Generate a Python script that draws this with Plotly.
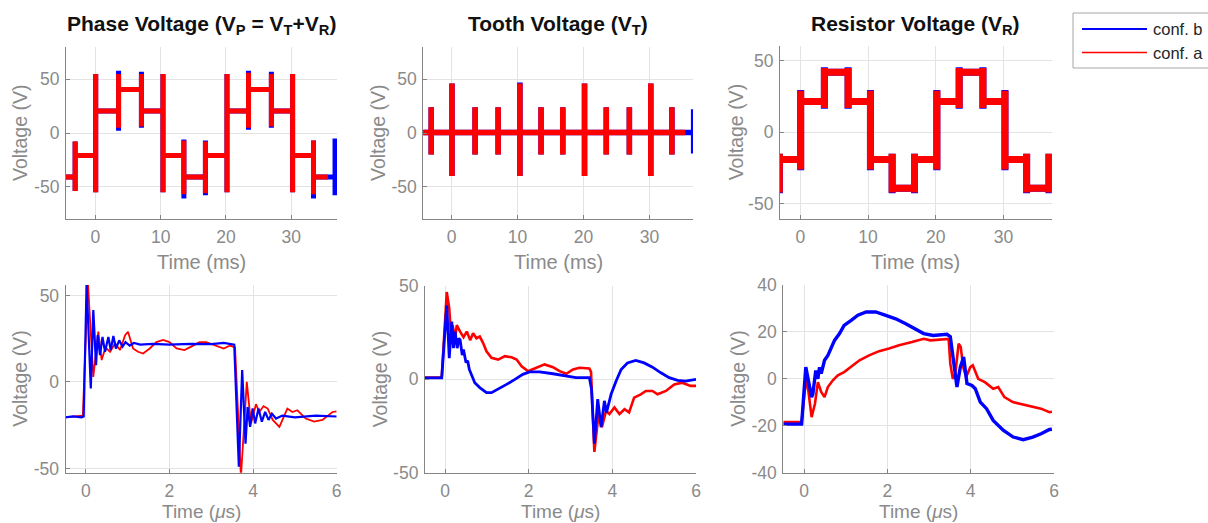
import plotly.graph_objects as go

# ---------------------------------------------------------------------------
# Data
# ---------------------------------------------------------------------------
# Switching instants of the inverter (ms) shared by the slow-time waveforms
STEP_T_MS = [-3.1, 0.05, 3.55, 7.05, 10.35, 13.55, 16.85, 20.15, 23.45, 26.95, 30.2, 33.4, 36.7]

# Phase voltage: plateau levels between switchings and transient extremes at each switching
PHASE_LEVELS = [-41, -21, 20.5, 40.5, 20.5, -21, -41, -21, 20.5, 40.5, 20.5, -21, -41, -21]
PHASE_A_HI = [-8, 55, 55, 55, 55, -7, -8, 55, 56, 55, 55, -7, -5]
PHASE_A_LO = [-54, -55, 5, 6, -55, -57, -56, -55, 5, 6, -55, -57, -58]
PHASE_B_HI = [-8, 55, 58, 57, 55, -6, -7, 55, 58, 57, 55, -7, -5]
PHASE_B_LO = [-54, -55, 2, 5, -55, -61, -58, -55, 3, 5, -55, -61, -58]

# Tooth voltage: flat baseline with transient spikes at each switching
TOOTH_LEVELS = [0.5] * 14
TOOTH_A_HI = [24, 46, 24, 24, 46, 24, 24, 46, 24, 24, 46, 24, 22]
TOOTH_A_LO = [-20, -40, -20, -20, -40, -20, -20, -40, -20, -20, -40, -20, -19]
TOOTH_B_HI = [24, 46, 24, 24, 47, 24, 24, 46, 24, 24, 46, 24, 22]
TOOTH_B_LO = [-20, -40, -20, -20, -40, -20, -20, -40, -20, -20, -40, -20, -19]

# Resistor voltage
RES_LEVELS = [-39, -19, 21.5, 42, 21.5, -19, -39, -19, 21.5, 42, 21.5, -19, -39, -19]
RES_A_HI = [-15, 29, 45, 45, 29, -15, -15, 29, 45, 45, 29, -15, -15]
RES_A_LO = [-42, -26, 17, 17, -26, -42, -42, -26, 17, 17, -26, -42, -42]
RES_B_HI = [-15, 29.5, 45.5, 45.5, 29.5, -15, -15, 29.5, 45.5, 45.5, 29.5, -15, -15]
RES_B_LO = [-42.5, -26.5, 16.5, 16.5, -26.5, -42.5, -42.5, -26.5, 16.5, 16.5, -26.5, -42.5, -42.5]

# Record spans (ms)
PHASE_SPAN_A = (-4.6, 35.6)
PHASE_SPAN_B = (-4.6, 37.0)
TOOTH_SPAN_A = (-4.4, 35.4)
TOOTH_SPAN_B = (-4.4, 36.7)
RES_SPAN = (-3.3, 36.8)

# Switching transient, phase voltage (time in us)
PH_A_T = [-0.5, -0.2, -0.07, 0.05, 0.12, 0.18, 0.30, 0.38, 0.44, 0.50, 0.58, 0.70, 0.82, 0.94,
          1.01, 1.13, 1.25, 1.37, 1.53, 1.69, 1.85, 2.0, 2.17, 2.36, 2.52, 2.72, 2.88, 3.12,
          3.3, 3.45, 3.57, 3.71, 3.78, 3.85, 3.95, 4.07, 4.15, 4.25, 4.35, 4.47, 4.63, 4.82,
          4.94, 5.06, 5.26, 5.46, 5.66, 5.9, 6.0]
PH_A_V = [-20.5, -20, -19.5, 58, 25, 2.9, 29, 12.6, 17.4, 19.3, 17.4, 22.2, 18.4, 27,
          29, 19.3, 17.4, 16.4, 19.3, 23, 24.2, 23, 19.3, 18.4, 20.4, 23, 23, 21,
          19.3, 21, 20, -55, -25, 0, -24, -12.9, -17.4, -14, -15.4, -22, -26, -15.4,
          -17.4, -16.4, -21.2, -23, -22, -17.4, -17]
PH_B_T = [-0.5, -0.3, -0.1, -0.05, 0.02, 0.12, 0.18, 0.245, 0.285, 0.34, 0.40, 0.46, 0.54,
          0.595, 0.66, 0.72, 0.80, 0.88, 0.95, 1.05, 1.15, 1.3, 1.6, 2.0, 2.5, 3.0, 3.3,
          3.45, 3.55, 3.66, 3.74, 3.82, 3.87, 3.93, 3.99, 4.05, 4.13, 4.21, 4.29, 4.37,
          4.45, 4.55, 4.7, 5.0, 5.5, 6.0]
PH_B_V = [-20.5, -20, -20.5, -20, 57, -3.8, 41.5, 9.7, 27, 15.5, 26, 17.4, 26,
          18.4, 26.5, 19.3, 24, 20.4, 23, 21, 22.5, 21.5, 22, 21.5, 22, 21.8, 22.5,
          22, 21.5, -49, 6.8, -35.7, -14.5, -26, -15.4, -24, -15.4, -23, -17.4, -22,
          -18.4, -21.2, -19.5, -20.5, -19.5, -20]

# Switching transient, tooth voltage
TH_A_T = [-0.5, -0.2, -0.08, 0.04, 0.1, 0.135, 0.18, 0.24, 0.28, 0.36, 0.44, 0.52, 0.6,
          0.67, 0.75, 0.83, 0.91, 0.99, 1.11, 1.27, 1.43, 1.59, 1.71, 1.83, 1.98, 2.14,
          2.38, 2.58, 2.74, 2.9, 3.06, 3.21, 3.45, 3.49, 3.57, 3.67, 3.75, 3.85, 3.93,
          4.05, 4.17, 4.29, 4.40, 4.52, 4.68, 4.8, 4.96, 5.08, 5.28, 5.48, 5.67, 5.87, 6.0]
TH_A_V = [1.0, 1.2, 1.0, 46.8, 38, 25.6, 29, 22, 29, 25.6, 22.6, 25.6, 21,
          24.7, 22, 22.9, 19.4, 15, 11.5, 10.6, 12.4, 11.8, 10.6, 7, 4.4, 5.8,
          8, 6.5, 4.4, 3, 5.3, 6.2, 5.8, 4, -38.9, -18.6, -25.6, -16.8, -18.6,
          -15, -18.6, -16, -17.7, -9.8, -8, -6.2, -6.2, -8, -6.2, -2.7, -1.8, -3.5, -3.5]
TH_B_T = [-0.5, -0.2, -0.08, 0.04, 0.1, 0.16, 0.2, 0.24, 0.29, 0.33, 0.36, 0.41, 0.44,
          0.5, 0.54, 0.58, 0.635, 0.71, 0.83, 0.99, 1.11, 1.27, 1.47, 1.67, 1.86, 2.02,
          2.26, 2.58, 2.9, 3.13, 3.45, 3.5, 3.57, 3.65, 3.73, 3.81, 3.86, 3.97, 4.09,
          4.21, 4.36, 4.56, 4.76, 4.96, 5.16, 5.36, 5.56, 5.75, 6.0]
TH_B_V = [0.8, 1.0, 0.8, 39.7, 11.4, 30.9, 16.7, 25.6, 16.7, 22, 21.2, 13, 16,
          9, 10, 5.3, 1.8, -1.8, -4.4, -7.1, -7.1, -5.3, -2.7, 0, 2.7, 4,
          4, 3, 1.8, 0.9, 0.9, -5, -34.5, -10.6, -25.6, -11.5, -17.7, -8, -0.9,
          5.3, 8.8, 10.1, 8.8, 6.5, 3.5, 0.9, -0.5, -0.9, 0]

# Switching transient, resistor voltage
RS_A_T = [-0.5, -0.2, -0.06, 0.04, 0.1, 0.18, 0.26, 0.33, 0.41, 0.49, 0.57, 0.69, 0.81,
          0.96, 1.13, 1.33, 1.56, 1.8, 2.04, 2.28, 2.59, 2.87, 3.03, 3.43, 3.47, 3.51,
          3.57, 3.63, 3.71, 3.76, 3.82, 3.89, 3.99, 4.05, 4.18, 4.34, 4.54, 4.66, 4.81,
          5.01, 5.26, 5.49, 5.69, 5.89, 5.95]
RS_A_V = [-18.4, -18.2, -18.4, -0.6, -4.9, -16.3, -10.6, -1.4, -5.6, -7.8, -3.5, -0.6, 1.5,
          2.9, 5.3, 7.9, 10, 11.8, 12.9, 14.3, 15.7, 17.1, 16.4, 17.1, 17, 6.5,
          0, 2.2, 15, 13.6, 5, 0.8, 5, 5.8, 0, -1.4, -4.2, -3.5, -7.8,
          -9.9, -10.9, -12, -12.7, -14.2, -14]
RS_B_T = [-0.5, -0.2, -0.06, 0.04, 0.1, 0.18, 0.21, 0.28, 0.33, 0.37, 0.41, 0.49, 0.57,
          0.65, 0.73, 0.85, 0.96, 1.13, 1.29, 1.49, 1.72, 1.96, 2.2, 2.44, 2.67, 2.87,
          3.1, 3.43, 3.51, 3.59, 3.67, 3.75, 3.83, 3.91, 4.03, 4.11, 4.23, 4.38, 4.54,
          4.78, 5.02, 5.26, 5.49, 5.69, 5.89, 5.95]
RS_B_V = [-19.3, -19.5, -19.3, 5, -0.6, -7.8, -6.4, 3.6, 0, 5, 2.2, 7.9, 10,
          13.6, 16.4, 19.3, 22.8, 24.9, 27.1, 28.5, 28.5, 27.1, 25.6, 23.5, 21.4, 19.3,
          18.5, 19, 18, 6.5, -3.5, 5, 9.3, -2, -2.8, -4.2, -9.9, -12.7, -17.7,
          -21.9, -24.8, -25.9, -24.8, -23.4, -21.6, -21.5]

TOP_TICKS_X = [0, 10, 20, 30]
TOP_TICKS_Y = [-50, 0, 50]
BOT_TICKS_X = [0, 2, 4, 6]
BOT_TICKS_Y_PH = [-50, 0, 50]
BOT_TICKS_Y_TH = [-50, 0, 50]
BOT_TICKS_Y_RS = [-40, -20, 0, 20, 40]

TITLES = ["<b>Phase Voltage (V<sub>P</sub> = V<sub>T</sub>+V<sub>R</sub>)</b>",
          "<b>Tooth Voltage (V<sub>T</sub>)</b>",
          "<b>Resistor Voltage (V<sub>R</sub>)</b>"]
SERIES_NAMES = ["conf. b", "conf. a"]

# ---------------------------------------------------------------------------
# Helpers
# ---------------------------------------------------------------------------
W, H = 1208, 523
BLUE, RED = "#0000ff", "#ff0000"
AXC = "#858585"
GRID = "#e3e3e3"
LABEL = "#8a8a8a"
FONT = "Liberation Sans, Arial, sans-serif"


def step_trace(span, levels, lo, hi):
    """Plateaus joined by vertical transient excursions at each switching."""
    t0, t1 = span
    xs, ys = [t0], [levels[0]]
    k = 0
    for i, t in enumerate(STEP_T_MS):
        if t > t1:
            break
        xs += [t, t, t, t]
        ys += [levels[i], hi[i], lo[i], levels[i + 1]]
        k = i + 1
    xs.append(t1)
    ys.append(levels[k])
    return xs, ys


def hx(p):
    return p / W


def vy(p):
    return 1 - p / H


def fmt(v):
    return str(v)


def xaxis(dom, rng, ticks, anchor):
    return dict(domain=[hx(dom[0]), hx(dom[1])], range=rng, anchor=anchor,
                tickmode="array", tickvals=ticks, ticktext=[fmt(t) for t in ticks],
                ticks="inside", ticklen=4, tickcolor=AXC, showline=True, linecolor=AXC,
                linewidth=1.2, showgrid=True, gridcolor=GRID, gridwidth=1, zeroline=False,
                tickfont=dict(family=FONT, size=17.5, color=LABEL), ticklabelstandoff=2,
                automargin=False, fixedrange=True)


def yaxis(dom, rng, ticks, anchor):
    d = xaxis((0, 1), rng, ticks, anchor)
    d["domain"] = [vy(dom[1]), vy(dom[0])]
    return d


fig = go.Figure()

# top row: blue underneath, red on top
top = [
    ("x", "y", PHASE_SPAN_B, PHASE_SPAN_A, PHASE_LEVELS, PHASE_B_LO, PHASE_B_HI, PHASE_A_LO, PHASE_A_HI, 5),
    ("x2", "y2", TOOTH_SPAN_B, TOOTH_SPAN_A, TOOTH_LEVELS, TOOTH_B_LO, TOOTH_B_HI, TOOTH_A_LO, TOOTH_A_HI, 5.5),
    ("x3", "y3", RES_SPAN, RES_SPAN, RES_LEVELS, RES_B_LO, RES_B_HI, RES_A_LO, RES_A_HI, 7),
]
for xa, ya, sb, sa, lev, blo, bhi, alo, ahi, lw in top:
    bx, by = step_trace(sb, lev, blo, bhi)
    ax_, ay_ = step_trace(sa, lev, alo, ahi)
    fig.add_trace(go.Scatter(x=bx, y=by, xaxis=xa, yaxis=ya, mode="lines", name=SERIES_NAMES[0],
                             line=dict(color=BLUE, width=lw), showlegend=False))
    fig.add_trace(go.Scatter(x=ax_, y=ay_, xaxis=xa, yaxis=ya, mode="lines", name=SERIES_NAMES[1],
                             line=dict(color=RED, width=lw), showlegend=False))

# bottom row: red underneath, blue on top
bottom = [
    ("x4", "y4", PH_A_T, PH_A_V, PH_B_T, PH_B_V, 1.8, 2.2),
    ("x5", "y5", TH_A_T, TH_A_V, TH_B_T, TH_B_V, 2.6, 2.8),
    ("x6", "y6", RS_A_T, RS_A_V, RS_B_T, RS_B_V, 2.6, 3.4),
]
for xa, ya, at, av, bt, bv, wa, wb in bottom:
    fig.add_trace(go.Scatter(x=at, y=av, xaxis=xa, yaxis=ya, mode="lines", name=SERIES_NAMES[1],
                             line=dict(color=RED, width=wa), showlegend=False))
    fig.add_trace(go.Scatter(x=bt, y=bv, xaxis=xa, yaxis=ya, mode="lines", name=SERIES_NAMES[0],
                             line=dict(color=BLUE, width=wb), showlegend=False))

# axes geometry (pixel boxes: left, right / top, bottom)
BOX = [
    ((66, 337), (47, 219), [-4.5, 37], [-80, 80], TOP_TICKS_X, TOP_TICKS_Y),
    ((423.3, 693), (47, 219), [-4.3, 36.6], [-80, 80], TOP_TICKS_X, TOP_TICKS_Y),
    ((780, 1051.7), (45.7, 219), [-3, 37.1], [-60.5, 60.5], TOP_TICKS_X, [-50, 0, 50]),
    ((65.7, 336.7), (285, 472.7), [-0.48, 6], [-52.5, 56], BOT_TICKS_X, BOT_TICKS_Y_PH),
    ((425, 696), (286, 472.7), [-0.48, 6], [-50, 50], BOT_TICKS_X, BOT_TICKS_Y_TH),
    ((783.3, 1054), (285, 472.7), [-0.5, 6], [-40, 40], BOT_TICKS_X, BOT_TICKS_Y_RS),
]
layout = {}
annotations = []
for i, (xd, yd, xr, yr, xt, yt) in enumerate(BOX, start=1):
    sfx = "" if i == 1 else str(i)
    layout["xaxis" + sfx] = xaxis(xd, xr, xt, "y" + sfx)
    layout["yaxis" + sfx] = yaxis(yd, yr, yt, "x" + sfx)
    cx = (xd[0] + xd[1]) / 2
    cy = (yd[0] + yd[1]) / 2
    if i <= 3:
        xlab, xly, xls = "Time (ms)", 262, 20
    else:
        xlab, xly, xls = "Time (<i>\u03bc</i>s)", 511, 19
    annotations.append(dict(text=xlab, x=hx(cx), y=vy(xly), xref="paper",
                            yref="paper", showarrow=False, xanchor="center", yanchor="middle",
                            font=dict(family=FONT, size=xls, color=LABEL)))
    ylx = [20, 378, 736, 20, 380, 738][i - 1]
    annotations.append(dict(text="Voltage (V)", x=hx(ylx), y=vy(cy), xref="paper", yref="paper",
                            showarrow=False, textangle=-90, xanchor="center", yanchor="middle",
                            font=dict(family=FONT, size=19.5, color=LABEL)))
    if i <= 3:
        annotations.append(dict(text=TITLES[i - 1], x=hx(cx), y=vy(25), xref="paper",
                                yref="paper", showarrow=False, xanchor="center", yanchor="middle",
                                font=dict(family=FONT, size=21, color="#111111")))

# legend box
shapes = [
    dict(type="rect", xref="paper", yref="paper", x0=hx(1073), x1=hx(1290), y0=vy(68), y1=vy(13),
         line=dict(color="#a6a6a6", width=1), fillcolor="white", layer="above"),
    dict(type="line", xref="paper", yref="paper", x0=hx(1082), x1=hx(1147), y0=vy(29), y1=vy(29),
         line=dict(color=BLUE, width=2.2), layer="above"),
    dict(type="line", xref="paper", yref="paper", x0=hx(1082), x1=hx(1147), y0=vy(52.5), y1=vy(52.5),
         line=dict(color=RED, width=1.6), layer="above"),
]
for name, yy in zip(SERIES_NAMES, [29, 52.5]):
    annotations.append(dict(text=name, x=hx(1151), y=vy(yy), xref="paper", yref="paper",
                            showarrow=False, xanchor="left", yanchor="middle",
                            font=dict(family=FONT, size=16.5, color="#262626")))

fig.update_layout(width=W, height=H,
                  margin=dict(l=0, r=0, t=0, b=0, pad=0, autoexpand=False),
                  paper_bgcolor="white", plot_bgcolor="white",
                  annotations=annotations, shapes=shapes, showlegend=False, **layout)

fig.write_html("out.html")
